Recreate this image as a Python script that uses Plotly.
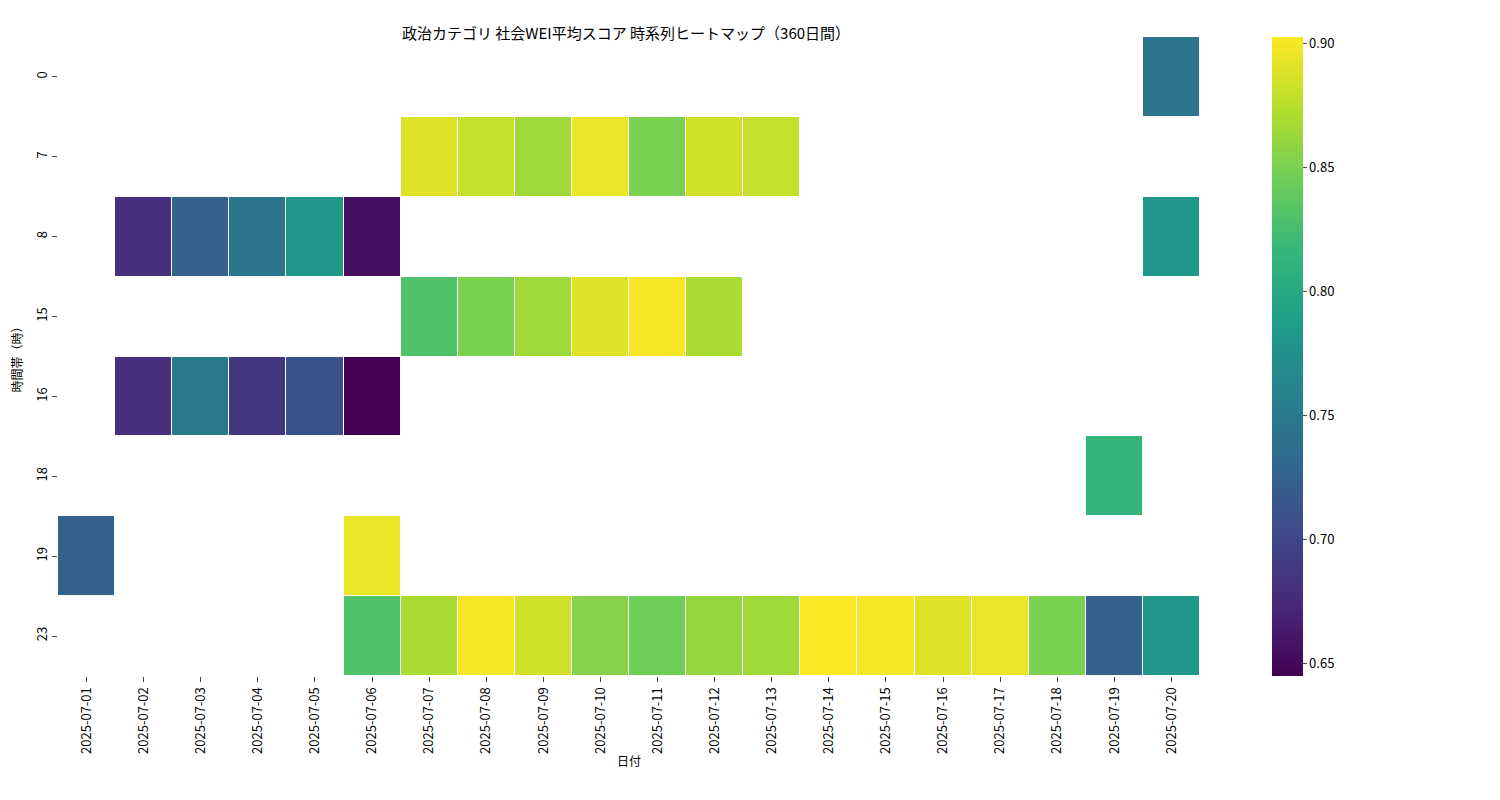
import plotly.graph_objects as go

dates = ["2025-07-%02d" % d for d in range(1, 21)]
hours = ["0", "7", "8", "15", "16", "18", "19", "23"]
N = None
# rows = hours, columns = dates
row_0 = [N]*19 + [0.745]
row_7 = [N]*6 + [0.89, 0.88, 0.865, 0.895, 0.85, 0.885, 0.88] + [N]*7
row_8 = [N, 0.68, 0.725, 0.745, 0.78, 0.655] + [N]*13 + [0.78]
row_15 = [N]*6 + [0.83, 0.85, 0.865, 0.89, 0.90, 0.87] + [N]*8
row_16 = [N, 0.68, 0.75, 0.685, 0.71, 0.645] + [N]*14
row_18 = [N]*18 + [0.815, N]
row_19 = [0.725, N, N, N, N, 0.895] + [N]*14
row_23 = [N]*5 + [0.83, 0.87, 0.90, 0.885, 0.855, 0.845, 0.86, 0.865,
                  0.902, 0.90, 0.89, 0.895, 0.85, 0.725, 0.78]
z = [row_0, row_7, row_8, row_15, row_16, row_18, row_19, row_23]

fig = go.Figure(go.Heatmap(
    z=z, x=dates, y=hours, colorscale="Viridis", xgap=1, ygap=1,
    zmin=0.645, zmax=0.9025,
    colorbar=dict(x=1.063, xanchor="left", y=0.5, yanchor="middle", len=1, lenmode="fraction",
                  ypad=0, xpad=0,
                  thickness=31, outlinewidth=0, tickvals=[0.65, 0.7, 0.75, 0.8, 0.85, 0.9],
                  ticktext=["0.65", "0.70", "0.75", "0.80", "0.85", "0.90"],
                  ticks="outside", ticklen=4, tickfont=dict(size=13)),
))
fig.update_layout(
    width=1500, height=800, plot_bgcolor="white", paper_bgcolor="white",
    font=dict(family="Noto Sans CJK JP", size=13, color="black"),
    title=dict(text="政治カテゴリ 社会WEI平均スコア 時系列ヒートマップ（360日間）", x=0.412, y=0.975,
               font=dict(size=15)),
    margin=dict(l=50, r=308, t=29, b=132, autoexpand=False),
    xaxis=dict(type="category", tickangle=-90, ticks="outside", ticklen=5, showgrid=False,
               title=dict(text="日付", standoff=4, font=dict(size=12))),
    yaxis=dict(type="category", autorange="reversed", tickangle=-90, ticks="outside", ticklen=5,
               showgrid=False, title=dict(text="時間帯（時）", standoff=8, font=dict(size=12))),
)
fig.write_html("out.html")
